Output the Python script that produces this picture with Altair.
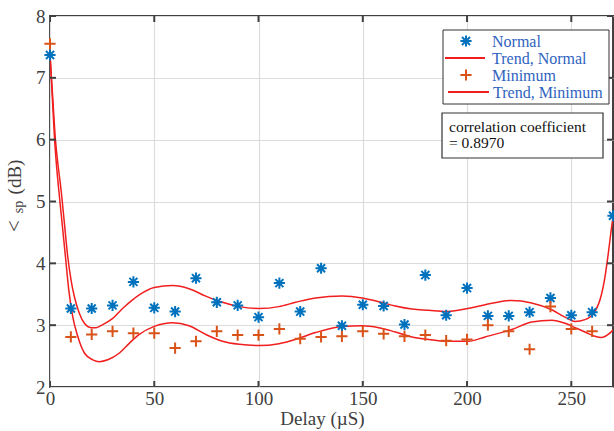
import altair as alt
import pandas as pd

# ---------------- data ----------------
delay_normal = list(range(0, 280, 10))
normal = [7.37, 3.27, 3.27, 3.32, 3.70, 3.28, 3.22, 3.76, 3.37, 3.32, 3.13, 3.68, 3.22, 3.92,
          2.99, 3.33, 3.31, 3.01, 3.81, 3.16, 3.60, 3.15, 3.15, 3.21, 3.44, 3.16, 3.21, 4.77]
delay_min = list(range(0, 270, 10))
minimum = [7.55, 2.81, 2.85, 2.90, 2.87, 2.87, 2.63, 2.74, 2.90, 2.84, 2.84, 2.94, 2.78, 2.81,
           2.82, 2.90, 2.86, 2.82, 2.84, 2.75, 2.77, 3.00, 2.90, 2.61, 3.30, 2.94, 2.90]

trend_n_x = [0, 1.3, 2.6, 4.0, 5.3, 6.9, 8.5, 10.1, 11.7, 14.1, 16.5, 19.7, 22.1, 25.3, 30.1,
             34.8, 39.6, 42.8, 50.0, 58.8, 66.7, 74.7, 82.7, 90.7, 100.2, 109.8, 117.8, 127.4,
             140.1, 149.7, 157.7, 165.6, 173.6, 181.6, 189.6, 200.4, 208.7, 221.4, 231.0, 240.6,
             247.0, 251.8, 256.6, 261.3, 264.5, 266.0, 267.7, 269.0, 270.0]
trend_n_y = [7.35, 6.68, 6.0, 5.55, 5.19, 4.65, 4.11, 3.73, 3.46, 3.19, 3.03, 2.96, 2.96, 3.01,
             3.11, 3.27, 3.41, 3.49, 3.61, 3.64, 3.59, 3.47, 3.37, 3.30, 3.27, 3.30, 3.37, 3.44,
             3.47, 3.44, 3.38, 3.31, 3.26, 3.24, 3.22, 3.27, 3.33, 3.40, 3.36, 3.25, 3.13, 3.06,
             3.09, 3.22, 3.50, 3.75, 4.15, 4.50, 4.75]

trend_m_x = [0, 1.1, 2.2, 3.2, 4.2, 5.8, 7.4, 9.0, 10.9, 13.3, 16.5, 20.5, 23.7, 27.7, 33.3,
             38.1, 42.8, 50.0, 58.8, 66.7, 74.7, 82.7, 90.7, 100.2, 109.8, 117.8, 127.4, 140.1,
             149.7, 157.7, 165.6, 173.6, 181.6, 189.6, 200.4, 208.7, 221.4, 231.0, 240.6, 247.0,
             251.8, 256.6, 261.3, 264.5, 267.7, 270.0]
trend_m_y = [7.40, 6.7, 6.0, 5.55, 5.19, 4.65, 4.11, 3.57, 3.14, 2.82, 2.55, 2.44, 2.41, 2.44,
             2.55, 2.71, 2.85, 2.98, 3.04, 2.99, 2.85, 2.74, 2.69, 2.67, 2.70, 2.77, 2.88, 2.98,
             2.99, 2.96, 2.89, 2.81, 2.77, 2.74, 2.74, 2.81, 2.93, 3.05, 3.08, 3.03, 2.96, 2.89,
             2.82, 2.80, 2.85, 2.92]

x_ticks = [0, 50, 100, 150, 200, 250]
y_ticks = [2, 3, 4, 5, 6, 7, 8]

legend_labels = ["Normal", "Trend, Normal", "Minimum", "Trend, Minimum"]
corr_lines = ["correlation coefficient", "= 0.8970"]
y_title_parts = ["<", "sp", "(dB)"]

# ---------------- styles ----------------
FONT = "Liberation Serif"
AX = "#404040"
BLUE = "#0072BD"
ORANGE = "#D95319"
RED = "#f01e1e"
LEG_TXT = "#2f63c0"
STAR = "M0,-1L0,1M-1,0L1,0M-0.72,-0.72L0.72,0.72M-0.72,0.72L0.72,-0.72"
PLUS = "M0,-1L0,1M-1,0L1,0"

df_n = pd.DataFrame({"delay": delay_normal, "val": normal})
df_m = pd.DataFrame({"delay": delay_min, "val": minimum})
df_tn = pd.DataFrame({"delay": trend_n_x, "val": trend_n_y})
df_tm = pd.DataFrame({"delay": trend_m_x, "val": trend_m_y})

xs = alt.Scale(domain=[0, 270], nice=False, zero=False)
ys = alt.Scale(domain=[2, 8], nice=False, zero=False)

common = dict(labelFont=FONT, labelFontSize=19, labelColor=AX,
              titleFont=FONT, titleFontSize=19, titleFontWeight="normal", titleColor=AX,
              grid=True, gridColor="#dcdcdc", gridWidth=1.2, domain=False, ticks=False,
              format="d", labelFlush=False)
xaxis = alt.Axis(values=x_ticks, title="Delay (µS)", titlePadding=1, titleX=272,
                 labelPadding=2, **common)
yaxis = alt.Axis(values=y_ticks, title="", labelPadding=5, **common)

X = alt.X("delay:Q", scale=xs, axis=xaxis)
Y = alt.Y("val:Q", scale=ys, axis=yaxis)

trend_n = alt.Chart(df_tn).mark_line(color=RED, strokeWidth=1.5, interpolate="monotone",
                                     clip=True).encode(x=X, y=Y)
trend_m = alt.Chart(df_tm).mark_line(color=RED, strokeWidth=1.5, interpolate="monotone",
                                     clip=True).encode(x=X, y=Y)
pts_n = alt.Chart(df_n).mark_point(shape=STAR, filled=False, color=BLUE, strokeWidth=2,
                                   size=125, opacity=1).encode(x=X, y=Y)
pts_m = alt.Chart(df_m).mark_point(shape=PLUS, filled=False, color=ORANGE, strokeWidth=2,
                                   size=125, opacity=1).encode(x=X, y=Y)

# inward ticks on all four sides
dxt = pd.DataFrame({"delay": x_ticks, "val": [2] * len(x_ticks), "val_top": [8] * len(x_ticks)})
dyt = pd.DataFrame({"val": y_ticks, "delay": [0] * len(y_ticks), "delay_r": [270] * len(y_ticks)})
tick_style = dict(color=AX, size=12, thickness=2, clip=True, opacity=1)
t_bot = alt.Chart(dxt).mark_tick(orient="vertical", **tick_style).encode(x=X, y=Y)
t_top = alt.Chart(dxt).mark_tick(orient="vertical", **tick_style).encode(
    x=X, y=alt.Y("val_top:Q", scale=ys, axis=yaxis))
t_left = alt.Chart(dyt).mark_tick(orient="horizontal", **tick_style).encode(x=X, y=Y)
t_right = alt.Chart(dyt).mark_tick(orient="horizontal", **tick_style).encode(
    x=alt.X("delay_r:Q", scale=xs, axis=xaxis), y=Y)

one = pd.DataFrame({"k": [0]})

# y-axis title built from rotated text pieces (subscript "sp")
ytitle_layers = [
    alt.Chart(one).mark_text(angle=270, align="center", baseline="middle", font=FONT,
                             fontSize=21, color=AX).encode(
        x=alt.value(-35), y=alt.value(210), text=alt.value(y_title_parts[0])),
    alt.Chart(one).mark_text(angle=270, align="center", baseline="middle", font=FONT,
                             fontSize=14, color=AX).encode(
        x=alt.value(-31), y=alt.value(191), text=alt.value(y_title_parts[1])),
    alt.Chart(one).mark_text(angle=270, align="center", baseline="middle", font=FONT,
                             fontSize=19, color=AX).encode(
        x=alt.value(-35), y=alt.value(161), text=alt.value(y_title_parts[2])),
]

# legend box
leg_box = alt.Chart(one).mark_rect(fill="white", stroke="#333333", strokeWidth=1).encode(
    x=alt.value(393), x2=alt.value(559), y=alt.value(14), y2=alt.value(88))
leg_rows = [25, 42, 59, 76]
leg_layers = [leg_box]
leg_layers.append(alt.Chart(one).mark_point(shape=STAR, filled=False, color=BLUE, strokeWidth=2,
                                            size=125, opacity=1).encode(x=alt.value(416), y=alt.value(leg_rows[0])))
leg_layers.append(alt.Chart(one).mark_rule(color=RED, strokeWidth=2).encode(
    x=alt.value(395), x2=alt.value(435), y=alt.value(leg_rows[1])))
leg_layers.append(alt.Chart(one).mark_point(shape=PLUS, filled=False, color=ORANGE, strokeWidth=2,
                                            size=125, opacity=1).encode(x=alt.value(416), y=alt.value(leg_rows[2])))
leg_layers.append(alt.Chart(one).mark_rule(color=RED, strokeWidth=2).encode(
    x=alt.value(398), x2=alt.value(439), y=alt.value(leg_rows[3])))
for i, lab in enumerate(legend_labels):
    leg_layers.append(alt.Chart(one).mark_text(align="left", baseline="middle", font=FONT,
                                               fontSize=16, color=LEG_TXT).encode(
        x=alt.value(442 if i < 3 else 443), y=alt.value(leg_rows[i] + 1), text=alt.value(lab)))

# correlation annotation
corr_box = alt.Chart(one).mark_rect(fill="white", stroke="#333333", strokeWidth=1.2).encode(
    x=alt.value(392), x2=alt.value(553), y=alt.value(97), y2=alt.value(142))
corr_layers = [corr_box]
for i, line in enumerate(corr_lines):
    corr_layers.append(alt.Chart(one).mark_text(align="left", baseline="middle", font=FONT,
                                                fontSize=15.5, color="#111111").encode(
        x=alt.value(399), y=alt.value(111 + 16 * i), text=alt.value(line)))

chart = alt.layer(trend_n, trend_m, pts_n, pts_m, t_bot, t_top, t_left, t_right,
                  *ytitle_layers, *leg_layers, *corr_layers).properties(
    width=563, height=371,
    padding={"left": 50, "top": 16, "right": 1, "bottom": 44},
    autosize=alt.AutoSizeParams(type="none"),
    background="white",
).configure(font=FONT).configure_view(stroke=AX, strokeWidth=2).configure_axis(**common)

chart.save("out.html", embed_options={"renderer": "svg", "actions": False})
